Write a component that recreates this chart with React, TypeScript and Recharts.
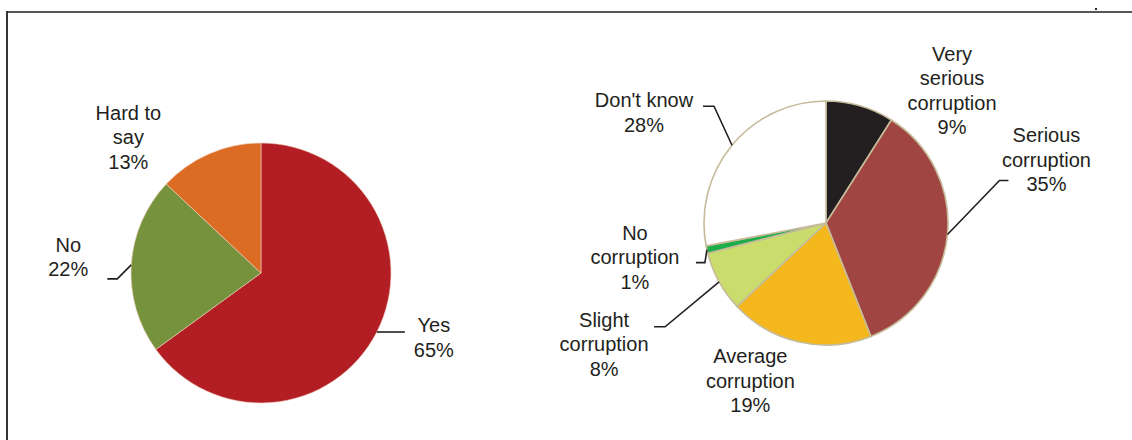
import React from 'react';
import { PieChart, Pie, Cell } from 'recharts';

// left pie
const leftNames = [['Yes'], ['No'], ['Hard to', 'say']];
const leftValues = [65, 22, 13];
const leftColors = ['#b21e23', '#76923c', '#dc6b24'];

// right pie
const rightNames = [
  ['Very', 'serious', 'corruption'],
  ['Serious', 'corruption'],
  ['Average', 'corruption'],
  ['Slight', 'corruption'],
  ['No', 'corruption'],
  ["Don't know"],
];
const rightValues = [9, 35, 19, 8, 1, 28];
const rightColors = ['#231f20', '#a04542', '#f5b81c', '#c9dc6c', '#1fad4b', '#ffffff'];

// label placement, offsets from the slice's mid point on the rim
const leftLabelPos = [[57, -7], [-63, -20], [-81, -41]];
const leftLeaders: (number[][] | null)[] = [[[28, 0]], [[-14, 14], [-24, 14]], null];
const rightLabelPos = [[92, -52], [99, -99], [-49, 14], [-115, 38], [-72, -17], [-88, -45]];
const rightLeaders: (number[][] | null)[] = [
  null,
  [[52, -54], [61, -54]],
  null,
  [[-54, 45], [-65, 45]],
  [[-2, 13], [-11, 13]],
  [[-18, -39], [-29, -39]],
];

const leftData = leftValues.map((v, i) => ({ name: leftNames[i].join(' '), value: v }));
const rightData = rightValues.map((v, i) => ({ name: rightNames[i].join(' '), value: v }));

const RAD = Math.PI / 180;
const FONT = '"Liberation Sans", Arial, sans-serif';
const LINE_H = 24.5;

const makeLabel = (names: string[][], pos: number[][], leaders: (number[][] | null)[]) => (props: any) => {
  const { cx, cy, midAngle, outerRadius, index, value } = props;
  const ex = cx + outerRadius * Math.cos(-midAngle * RAD);
  const ey = cy + outerRadius * Math.sin(-midAngle * RAD);
  const lines = [...names[index], `${value}%`];
  const [dx, dy] = pos[index];
  const leader = leaders[index];
  return (
    <g key={`lbl-${index}`}>
      {leader && (
        <polyline
          points={[[0, 0], ...leader].map(([px, py]) => `${ex + px},${ey + py}`).join(' ')}
          fill="none"
          stroke="#231f20"
          strokeWidth={1.6}
        />
      )}
      {lines.map((t, k) => (
        <text
          key={k}
          x={ex + dx}
          y={ey + dy + k * LINE_H}
          textAnchor="middle"
          dominantBaseline="central"
          fill="#231f20"
          fontSize={20}
          fontFamily={FONT}
        >
          {t}
        </text>
      ))}
    </g>
  );
};

export default function App() {
  return (
    <div style={{ position: 'absolute', left: 0, top: 0, width: 1132, height: 440, background: '#fff', overflow: 'hidden' }}>
      <div style={{ position: 'absolute', left: 7, top: 11, width: 1125, height: 2, background: '#555' }} />
      <div style={{ position: 'absolute', left: 6, top: 11, width: 2, height: 429, background: '#333' }} />
      <div style={{ position: 'absolute', left: 1095, top: 8, width: 2, height: 2, background: '#222' }} />
      <div style={{ position: 'absolute', left: 0, top: 0 }}>
        <PieChart width={1132} height={440} margin={{ top: 0, right: 0, bottom: 0, left: 0 }}>
          <Pie
            data={leftData}
            dataKey="value"
            cx={261}
            cy={273}
            outerRadius={130}
            startAngle={90}
            endAngle={-270}
            stroke="#f2d0c0"
            strokeWidth={0.6}
            labelLine={false}
            label={makeLabel(leftNames, leftLabelPos, leftLeaders)}
            isAnimationActive={false}
          >
            {leftData.map((d, i) => (
              <Cell key={d.name} fill={leftColors[i]} />
            ))}
          </Pie>
          <Pie
            data={rightData}
            dataKey="value"
            cx={826}
            cy={223}
            outerRadius={122}
            startAngle={90}
            endAngle={-270}
            stroke="#c6bb9a"
            strokeWidth={1.6}
            labelLine={false}
            label={makeLabel(rightNames, rightLabelPos, rightLeaders)}
            isAnimationActive={false}
          >
            {rightData.map((d, i) => (
              <Cell key={d.name} fill={rightColors[i]} />
            ))}
          </Pie>
        </PieChart>
      </div>
    </div>
  );
}
